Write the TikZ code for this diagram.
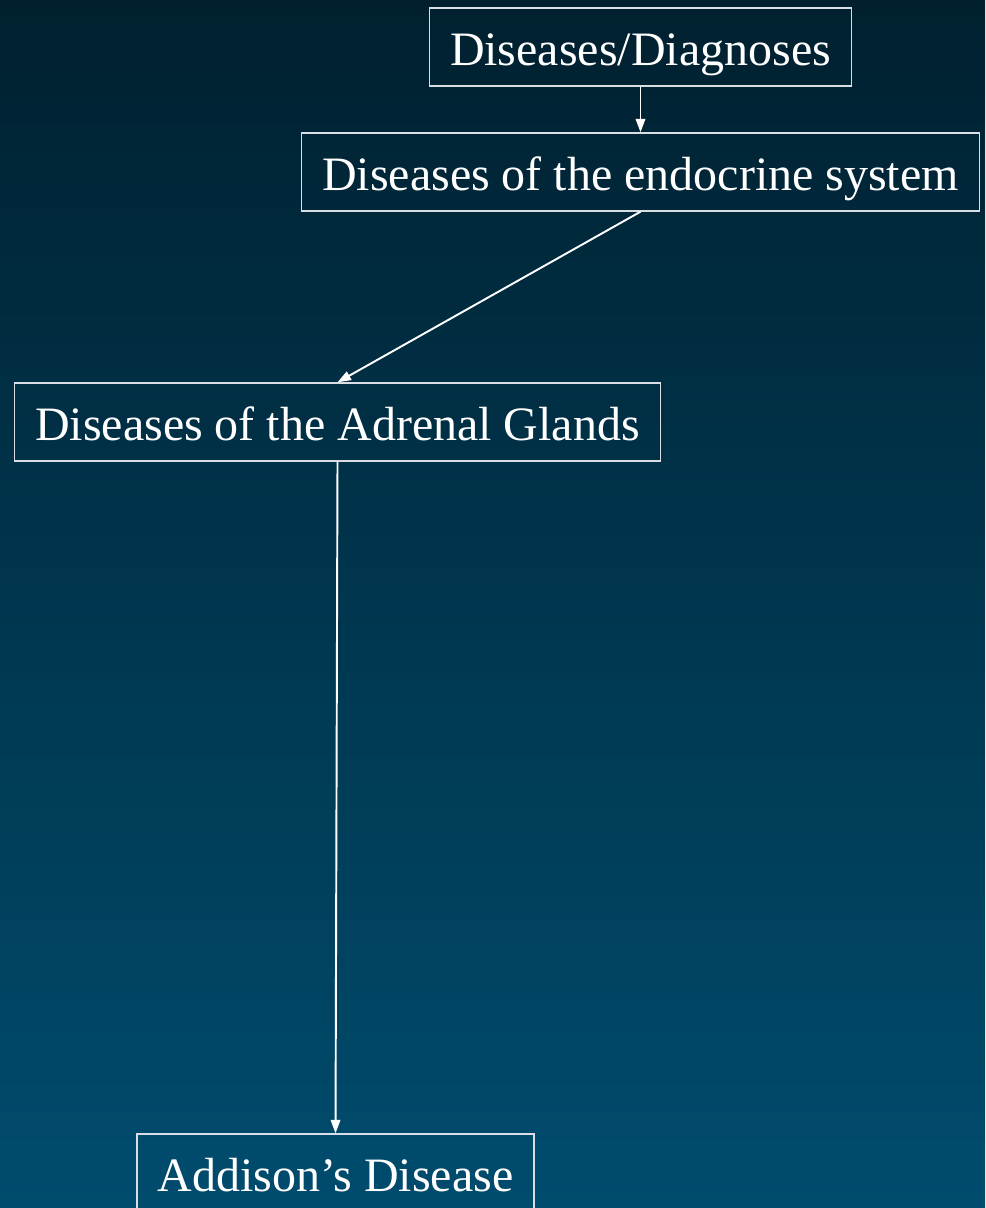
\documentclass[tikz,border=0pt]{standalone}
\usepackage{fontspec}
\setmainfont{Liberation Serif}
\usepackage{tikz}
\usetikzlibrary{arrows.meta,positioning}
\definecolor{bgtop}{HTML}{00202F}
\definecolor{bgbottom}{HTML}{004C6E}
\definecolor{boxline}{HTML}{D8DEE4}

\begin{document}
\begin{tikzpicture}[x=0.02cm, y=-0.02cm,
  dbox/.style={rectangle, draw=boxline, line width=0.8pt, text=white,
               font=\fontsize{27.3}{32}\selectfont, inner xsep=0.41cm, inner ysep=0.34cm,
               text height=0.8cm, text depth=0.08cm},
  link/.style={draw=white, line width=1.1pt, -{Triangle[length=0.27cm, width=0.19cm]}},
]
  \path[use as bounding box] (0,0) rectangle (985,1208);
  \clip (0,0) rectangle (985,1208);
  \shade[top color=bgtop, bottom color=bgbottom] (0,0) rectangle (985,1208);

  \node[dbox] (diag) at (640.5, 47) {Diseases/Diagnoses};
  \node[dbox] (endo) at (640.5, 172) {Diseases of the endocrine system};
  \node[dbox] (adrenal) at (337.5, 422) {Diseases of the Adrenal Glands};
  \node[dbox] (addison) at (335.5, 1173) {Addison’s Disease};

  \draw[link] (diag.south) -- (endo.north);
  \draw[link] (endo.south) -- (adrenal.north);
  \draw[link] (adrenal.south) -- (addison.north);
\end{tikzpicture}
\end{document}
